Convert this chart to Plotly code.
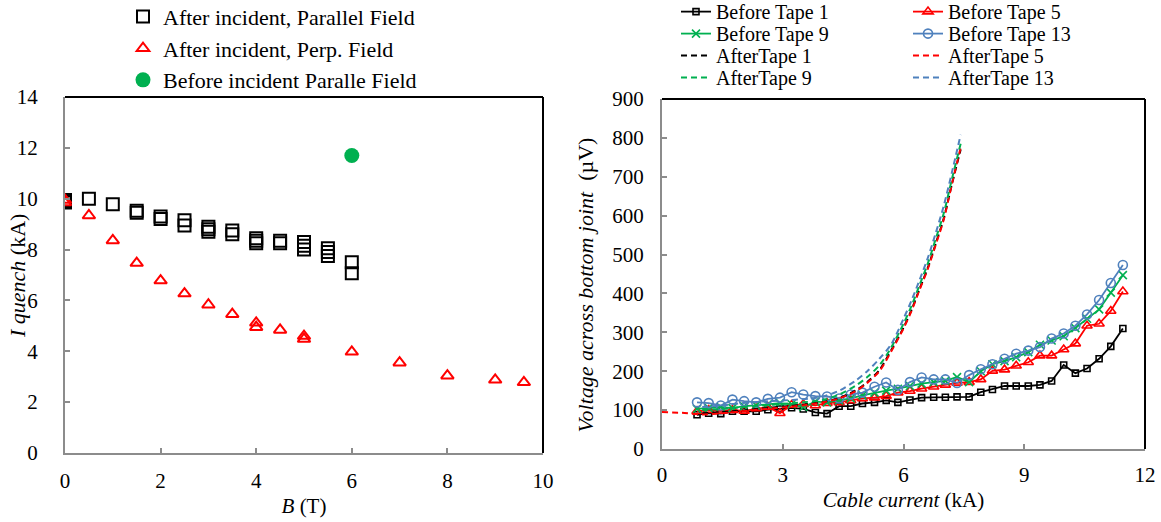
import plotly.graph_objects as go

# ---------------- Left chart data ----------------
B_par = [0, 0, 0, 0.5, 1, 1.5, 1.5, 2, 2, 2.5, 2.5, 3, 3, 3, 3.5, 3.5, 4, 4, 4,
         4.5, 4.5, 5, 5, 5, 5.5, 5.5, 5.5, 6, 6]
I_par = [9.95, 9.9, 9.85, 10.0, 9.78, 9.53, 9.45, 9.3, 9.2, 9.15, 8.95, 8.9, 8.8, 8.7,
         8.75, 8.6, 8.45, 8.35, 8.25, 8.35, 8.25, 8.3, 8.15, 8.0, 8.05, 7.9, 7.75, 7.5, 7.07]
B_perp = [0, 0, 0.5, 1, 1.5, 2, 2.5, 3, 3.5, 4, 4, 4.5, 5, 5, 6, 7, 8, 9, 9.6]
I_perp = [9.95, 9.85, 9.34, 8.36, 7.47, 6.78, 6.27, 5.83, 5.46, 5.12, 4.95, 4.84, 4.6,
          4.48, 3.98, 3.55, 3.04, 2.88, 2.78]
B_before = [6]
I_before = [11.7]

# ---------------- Right chart data ----------------
cur = [0.87, 1.16, 1.46, 1.75, 2.04, 2.34, 2.63, 2.93, 3.22, 3.51, 3.81, 4.10, 4.40,
       4.69, 4.98, 5.28, 5.57, 5.86, 6.16, 6.45, 6.75, 7.04, 7.33, 7.63, 7.92, 8.21,
       8.51, 8.80, 9.10, 9.39, 9.68, 9.98, 10.27, 10.56, 10.86, 11.15, 11.45]
before_t1 = [88, 92, 91, 97, 97, 97, 101, 103, 106, 103, 94, 91, 110, 110, 117, 120, 125,
             120, 126, 132, 133, 133, 134, 134, 146, 153, 162, 162, 162, 165, 175, 216,
             195, 207, 232, 264, 310]
before_t5 = [97, 100, 98, 100, 98, 104, 108, 92, 113, 115, 112, 118, 120, 125, 130, 132,
             136, 145, 149, 155, 160, 165, 170, 172, 179, 201, 204, 214, 223, 240, 240,
             256, 271, 317, 322, 355, 405]
before_t9 = [103, 105, 108, 105, 110, 112, 115, 118, 115, 108, 122, 120, 125, 130, 138,
             145, 150, 155, 162, 168, 172, 175, 185, 172, 200, 218, 226, 236, 249, 268,
             279, 290, 311, 335, 359, 402, 447]
before_t13 = [120, 118, 112, 127, 123, 120, 129, 132, 146, 140, 136, 135, 130, 140, 145,
              160, 171, 152, 172, 184, 179, 179, 170, 190, 205, 218, 232, 245, 253, 262,
              284, 297, 317, 346, 383, 427, 473]

cur_after = [1.0, 1.5, 2.0, 2.5, 3.0, 3.5, 4.0, 4.4, 4.8, 5.1, 5.4, 5.7, 6.0, 6.2,
             6.4, 6.6, 6.8, 7.0, 7.2, 7.42]
cur_after5 = [0, 0.5] + cur_after
after_t1 = [92, 95, 99, 104, 109, 114, 121, 131, 150, 172, 203, 255, 312, 358, 412,
            465, 528, 593, 680, 770]
after_t5 = [95, 93, 89, 92, 97, 102, 107, 112, 120, 130, 148, 170, 200, 252, 310, 355,
            410, 462, 525, 590, 680, 775]
after_t9 = [100, 103, 108, 112, 116, 120, 126, 140, 162, 185, 215, 262, 322, 368, 422,
            476, 540, 606, 693, 785]
after_t13 = [108, 112, 118, 122, 125, 128, 135, 150, 175, 200, 232, 270, 335, 382, 435,
             490, 555, 625, 710, 808]

FONT = "Liberation Serif"
BLACK = "#000000"
RED = "#FF0000"
GREEN = "#00B050"
BLUE = "#4F81BD"
GRAY = "#8C8C8C"
W, H = 1161, 522

fig = go.Figure()

# Left chart
fig.add_trace(go.Scatter(x=B_par, y=I_par, mode="markers", name="After incident, Parallel Field",
                         marker=dict(symbol="square-open", size=12, color=BLACK, line=dict(width=2)),
                         xaxis="x", yaxis="y", legend="legend"))
fig.add_trace(go.Scatter(x=B_perp, y=I_perp, mode="markers", name="After incident, Perp. Field",
                         marker=dict(symbol="triangle-up-open", size=11, color=RED, line=dict(width=2)),
                         xaxis="x", yaxis="y", legend="legend"))
fig.add_trace(go.Scatter(x=B_before, y=I_before, mode="markers", name="Before incident Paralle Field",
                         marker=dict(symbol="circle", size=15, color=GREEN),
                         xaxis="x", yaxis="y", legend="legend"))

# Right chart: each legend entry gets its own small legend so that rows can sit close together
def solid(x, y, name, color, symbol, size, leg):
    return go.Scatter(x=x, y=y, mode="lines+markers", name=name,
                      line=dict(color=color, width=1.8),
                      marker=dict(symbol=symbol, size=size, color=color, line=dict(width=1.6, color=color)),
                      xaxis="x2", yaxis="y2", legend=leg)

def dashed(x, y, name, color, leg):
    return go.Scatter(x=x, y=y, mode="lines", name=name,
                      line=dict(color=color, width=2, dash="6px,4px", shape="spline", smoothing=0.8),
                      xaxis="x2", yaxis="y2", legend=leg)

fig.add_trace(solid(cur, before_t1, "Before Tape 1", BLACK, "square-open", 6, "legend2"))
fig.add_trace(solid(cur, before_t5, "Before Tape 5", RED, "triangle-up-open", 9, "legend3"))
fig.add_trace(solid(cur, before_t9, "Before Tape 9", GREEN, "x-thin-open", 8, "legend4"))
fig.add_trace(solid(cur, before_t13, "Before Tape 13", BLUE, "circle-open", 9, "legend5"))
fig.add_trace(dashed(cur_after, after_t1, "AfterTape 1", BLACK, "legend6"))
fig.add_trace(dashed(cur_after5, after_t5, "AfterTape 5", RED, "legend7"))
fig.add_trace(dashed(cur_after, after_t9, "AfterTape 9", GREEN, "legend8"))
fig.add_trace(dashed(cur_after, after_t13, "AfterTape 13", BLUE, "legend9"))


def axis_style(size, standoff):
    return dict(showgrid=False, zeroline=False, showline=True, linecolor=GRAY, linewidth=2,
                ticks="inside", ticklen=5, tickwidth=1.5, tickcolor=GRAY, automargin=False,
                tickfont=dict(family=FONT, size=size, color=BLACK), ticklabelstandoff=standoff)


leg_common = dict(xanchor="left", yanchor="top", bgcolor="rgba(0,0,0,0)", borderwidth=0,
                  orientation="v", tracegroupgap=0)

right_leg_font = dict(family=FONT, size=20, color=BLACK)
row_y = [1.0151, 0.9730, 0.9308, 0.8887]
col_x = [676 / W, 908 / W]
legends_right = {}
for i in range(8):
    legends_right[f"legend{i + 2}"] = dict(x=col_x[i % 2], y=row_y[i // 2], font=right_leg_font, **leg_common)

fig.update_layout(
    width=W, height=H,
    margin=dict(l=0, r=0, t=0, b=0, autoexpand=False),
    paper_bgcolor="white", plot_bgcolor="white",
    font=dict(family=FONT, size=18, color=BLACK),
    xaxis=dict(domain=[65 / W, 543 / W], range=[0, 10], dtick=2, anchor="y",
               title=dict(text="<i>B</i> (T)", font=dict(family=FONT, size=21), standoff=6),
               **axis_style(21, 8)),
    yaxis=dict(domain=[1 - 453 / H, 1 - 97 / H], range=[0, 14], dtick=2, anchor="x",
               **axis_style(21, 21)),
    xaxis2=dict(domain=[662 / W, 1145 / W], range=[0, 12], dtick=3, anchor="y2",
                title=dict(text="<i>Cable current</i> (kA)", font=dict(family=FONT, size=21), standoff=6),
                **axis_style(21, 6)),
    yaxis2=dict(domain=[1 - 449 / H, 1 - 99 / H], range=[0, 900], dtick=100, anchor="x2",
                title=dict(text="<i>Voltage across bottom joint</i>  (µV)&nbsp;&nbsp;&nbsp;&nbsp;",
                           font=dict(family=FONT, size=22), standoff=13),
                **axis_style(21, 12)),
    legend=dict(x=123 / W, y=1.008, font=dict(family=FONT, size=22, color=BLACK), **leg_common),
    showlegend=True,
    **legends_right,
)

# Left y-axis title (placed as a rotated label close to the tick labels, as in the original)
fig.add_annotation(text="<i>I quench</i> (kA)", xref="paper", yref="paper",
                   x=17 / W, y=1 - 276 / H, xanchor="center", yanchor="middle",
                   textangle=-90, showarrow=False, font=dict(family=FONT, size=22, color=BLACK))

# top & right black frame lines
for xa, ya in (("x", "y"), ("x2", "y2")):
    fig.add_shape(type="line", xref=f"{xa} domain", yref=f"{ya} domain", x0=0, x1=1, y0=1, y1=1,
                  line=dict(color=BLACK, width=2))
    fig.add_shape(type="line", xref=f"{xa} domain", yref=f"{ya} domain", x0=1, x1=1, y0=0, y1=1,
                  line=dict(color=BLACK, width=2))

fig.write_html("out.html", config={"displayModeBar": False},
               post_script="document.body.style.margin='0px';")
